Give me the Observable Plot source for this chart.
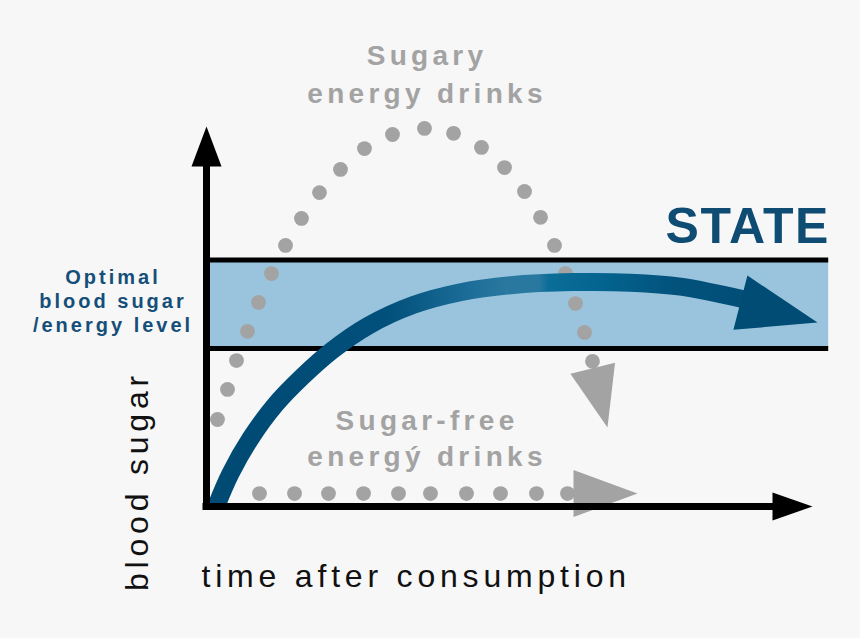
<!DOCTYPE html>
<html>
<head>
<meta charset="utf-8">
<script src="https://cdn.jsdelivr.net/npm/d3@7"></script>
<script src="https://cdn.jsdelivr.net/npm/@observablehq/plot@0.6"></script>
<style>
html, body { margin: 0; padding: 0; background: #f7f7f7; }
#chart svg { display: block; }
</style>
</head>
<body>
<div id="chart"></div>
<script>
// ---- data (time after consumption, blood sugar level) ----
const sugaryTime  = [1.83, 3.5, 5.0, 6.83, 8.67, 10.83, 13.17, 15.83, 18.83, 22.33, 26.33, 31.0, 36.33, 41.17, 45.83, 49.67, 53.0, 55.67, 58.0, 59.83, 61.5, 63.0, 64.33];
const sugaryLevel = [22.9, 30.8, 38.4, 46.1, 53.7, 61.3, 68.7, 75.8, 82.6, 88.7, 94.2, 97.9, 99.5, 98.2, 94.5, 89.2, 82.9, 76.1, 68.7, 61.3, 53.4, 45.8, 38.2];
const sugaryEnd   = {time: 66.83, level: 20.8};

const sugarFreeTime  = [8.83, 14.67, 20.33, 26.17, 32.0, 37.33, 43.33, 49.0, 55.0, 60.17];
const sugarFreeLevel = [3.4, 3.4, 3.4, 3.4, 3.4, 3.4, 3.4, 3.4, 3.4, 3.4];
const sugarFreeEnd   = {time: 71.83, level: 3.4};

const stateTime  = [1.67, 4.0, 7.33, 11.5, 16.0, 21.0, 27.0, 34.5, 42.33, 50.67, 61.17, 70.67, 79.0, 89.83];
const stateLevel = [0.26, 8.68, 17.89, 26.84, 34.21, 41.16, 47.61, 53.05, 56.39, 58.24, 59.05, 58.89, 57.84, 54.42];
const stateEnd   = {time: 101.83, level: 48.4};

const optimalBand = [41.6, 64.9];   // low, high blood sugar
const timeExtent  = 103.7;
const axisTimeMax = 101;
const axisLevelMax = 100;

const sugaryLabel    = ["Sugary", "energy drinks"];
const sugarFreeLabel = ["Sugar-free", "energý drinks"];
const optimalLabel   = ["Optimal", "blood sugar", "/energy level"];
const stateLabel     = "STATE";
const xAxisLabel     = "time after consumption";
const yAxisLabel     = "blood sugar";

// ---- derived tables ----
const sugary    = sugaryTime.map((t, i) => ({time: t, level: sugaryLevel[i]}));
const sugarFree = sugarFreeTime.map((t, i) => ({time: t, level: sugarFreeLevel[i]}));
const state     = stateTime.map((t, i) => ({time: t, level: stateLevel[i]}));

// custom filled arrowhead symbol: tip at the anchor, pointing at angle (deg, 0 = up, clockwise)
function head(len, half, angle) {
  const a = angle * Math.PI / 180;
  const dx = Math.sin(a), dy = -Math.cos(a), px = Math.cos(a), py = Math.sin(a);
  return {
    draw(ctx) {
      const bx = -len * dx, by = -len * dy;
      ctx.moveTo(0, 0);
      ctx.lineTo(bx + half * px, by + half * py);
      ctx.lineTo(bx - half * px, by - half * py);
      ctx.closePath();
    }
  };
}

const GRAY = "#a3a3a3";
const BLUE_TEXT = "#154f79";
const FONT = "Liberation Sans, Arial, sans-serif";

const textSpacing = [4.3, 4.3, 3, 1.6, 4.8, 4.8];

const chart = Plot.plot({
  width: 860,
  height: 638,
  margin: 0,
  x: {domain: [0, 100], range: [206, 806], axis: null},
  y: {domain: [0, 100], range: [506, 126], axis: null},
  style: {background: "#f7f7f7", overflow: "visible"},
  marks: [
    // optimal band
    Plot.rect([optimalBand], {x1: 0, x2: timeExtent, y1: d => d[0], y2: d => d[1], fill: "#9ac4dd"}),
    Plot.ruleY(optimalBand, {x1: 0, x2: timeExtent, stroke: "#000", strokeWidth: 5}),
    // sugar-free dotted line
    Plot.dot(sugarFree, {x: "time", y: "level", r: 7.4, fill: GRAY, stroke: "none"}),
    Plot.dot([sugarFreeEnd], {x: "time", y: "level", r: 10, symbol: head(64, 23.5, 90), fill: GRAY, stroke: "none"}),
    // sugary dotted curve
    Plot.dot(sugary, {x: "time", y: "level", r: 7.4, fill: GRAY, stroke: "none"}),
    Plot.dot([sugaryEnd], {x: "time", y: "level", r: 10, symbol: head(61, 23, 166), fill: GRAY, stroke: "none"}),
    // STATE curve
    Plot.line(state, {x: "time", y: "level", curve: "catmull-rom", stroke: "url(#stateGrad)", strokeWidth: 18, strokeLinecap: "butt"}),
    Plot.dot([stateEnd], {x: "time", y: "level", r: 10, symbol: head(79.6, 28, 104.5), fill: "#014c74", stroke: "none"}),
    // axes
    Plot.ruleX([0], {y1: 0, y2: 90, stroke: "#000", strokeWidth: 7, strokeLinecap: "square"}),
    Plot.ruleY([0], {x1: 0, x2: 95, stroke: "#000", strokeWidth: 7, strokeLinecap: "square"}),
    Plot.dot([{time: 0, level: axisLevelMax}], {x: "time", y: "level", r: 10, symbol: head(40, 15, 0), fill: "#000", stroke: "none"}),
    Plot.dot([{time: axisTimeMax, level: 0}], {x: "time", y: "level", r: 10, symbol: head(40, 14, 90), fill: "#000", stroke: "none"}),
    // labels
    Plot.text([sugaryLabel.join("\n")], {x: 36.42, y: 106.3, text: d => d, lineAnchor: "bottom", lineHeight: 1.357, fontSize: 28, fontWeight: "bold", fontFamily: FONT, fill: GRAY, dx: 2}),
    Plot.text([sugarFreeLabel.join("\n")], {x: 36.42, y: 10.53, text: d => d, lineAnchor: "bottom", lineHeight: 1.286, fontSize: 28, fontWeight: "bold", fontFamily: FONT, fill: GRAY, dx: 2}),
    Plot.text([optimalLabel.join("\n")], {x: -15.83, y: 46.05, text: d => d, lineAnchor: "bottom", lineHeight: 1.2, fontSize: 20, fontWeight: "bold", fontFamily: FONT, fill: BLUE_TEXT, dx: 1.5}),
    Plot.text([stateLabel], {x: 76.5, y: 69.47, text: d => d, lineAnchor: "bottom", textAnchor: "start", fontSize: 50, fontWeight: "bold", fontFamily: FONT, fill: "#0e4c74"}),
    Plot.text([xAxisLabel], {x: -0.83, y: -21.3, text: d => d, lineAnchor: "bottom", textAnchor: "start", fontSize: 32, fontFamily: FONT, fill: "#111"}),
    Plot.text([yAxisLabel], {x: -9.67, y: 6.71, text: d => d, lineAnchor: "bottom", rotate: -90, fontSize: 32, fontFamily: FONT, fill: "#111"})
  ]
});

// gradient for the STATE curve
const xs = chart.scale("x");
const grad = d3.select(chart).insert("defs", ":first-child")
  .append("linearGradient")
  .attr("id", "stateGrad")
  .attr("gradientUnits", "userSpaceOnUse")
  .attr("x1", xs.apply(0)).attr("x2", xs.apply(100))
  .attr("y1", 0).attr("y2", 0);
[[0, "#004a73"], [0.30, "#014f7b"], [0.43, "#1a6c97"], [0.50, "#2a78a0"], [0.555, "#2878a0"],
 [0.57, "#0a6e98"], [0.65, "#046590"], [0.78, "#02527c"], [1, "#004b73"]]
  .forEach(([o, c]) => grad.append("stop").attr("offset", o).attr("stop-color", c));

// letter spacing for text marks (in mark order)
chart.querySelectorAll('g[aria-label="text"]').forEach((g, i) => {
  g.style.letterSpacing = textSpacing[i] + "px";
});

document.getElementById("chart").appendChild(chart);
</script>
</body>
</html>
